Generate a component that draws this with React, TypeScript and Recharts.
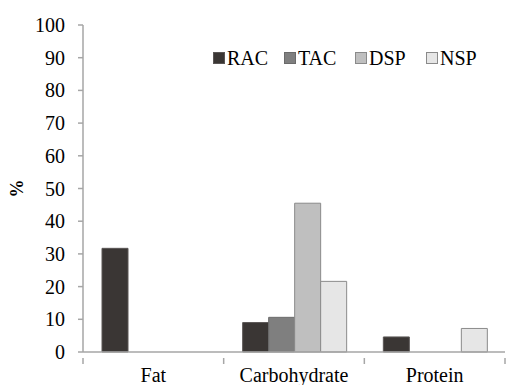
import { Bar, BarChart, XAxis, YAxis } from 'recharts';

const CATEGORIES = ['Fat', 'Carbohydrate', 'Protein'];
const RAC = [31.7, 9.0, 4.6];
const TAC = [null, 10.6, null];
const DSP = [null, 45.5, null];
const NSP = [null, 21.6, 7.2];
const Y_TICKS = [0, 10, 20, 30, 40, 50, 60, 70, 80, 90, 100];

const SERIES = [
  { key: 'RAC', fill: '#3a3634', stroke: '#5a5655' },
  { key: 'TAC', fill: '#7f7f7f', stroke: '#6a6a6a' },
  { key: 'DSP', fill: '#bfbfbf', stroke: '#8a8a8a' },
  { key: 'NSP', fill: '#e6e6e6', stroke: '#8a8a8a' },
];

const data = CATEGORIES.map((name, i) => ({
  name,
  RAC: RAC[i],
  TAC: TAC[i],
  DSP: DSP[i],
  NSP: NSP[i],
}));

const FONT = "'Liberation Serif', 'Times New Roman', serif";
const AXIS = '#a6a6a6';

function XTick(props: any) {
  const { x, y, payload, index } = props;
  const half = payload.offset ?? 0;
  const isLast = index === CATEGORIES.length - 1;
  return (
    <g>
      <line x1={x - half} x2={x - half} y1={y} y2={y + 6} stroke={AXIS} strokeWidth={1.5} />
      {isLast && (
        <line x1={x + half} x2={x + half} y1={y} y2={y + 6} stroke={AXIS} strokeWidth={1.5} />
      )}
      <text
        x={x}
        y={y + 24}
        textAnchor="middle"
        fontFamily={FONT}
        style={{ fontFamily: FONT, fontSize: 20, fill: '#000' }}
      >
        {payload.value}
      </text>
    </g>
  );
}

function YTick(props: any) {
  const { x, y, payload } = props;
  return (
    <text
      x={x - 2}
      y={y}
      dy={7}
      textAnchor="end"
      fontFamily={FONT}
      style={{ fontFamily: FONT, fontSize: 20, fill: '#000' }}
    >
      {payload.value}
    </text>
  );
}

function YLabel(props: any) {
  const { viewBox } = props;
  const cx = 17;
  const cy = viewBox.y + viewBox.height / 2;
  return (
    <text
      x={cx}
      y={cy}
      transform={`rotate(-90, ${cx}, ${cy})`}
      textAnchor="middle"
      dominantBaseline="central"
      style={{ fontFamily: FONT, fontSize: 18, fontWeight: 'bold', fill: '#000' }}
    >
      %
    </text>
  );
}

export default function App() {
  return (
    <div style={{ position: 'absolute', left: 0, top: 0, width: 506, height: 385, background: '#fff' }}>
      <BarChart
        width={506}
        height={385}
        data={data}
        margin={{ top: 25, right: 1, left: 0, bottom: 0 }}
        barCategoryGap={19}
        barGap={0}
        style={{ fontFamily: FONT }}
      >
        <XAxis
          dataKey="name"
          height={33}
          stroke={AXIS}
          strokeWidth={1.5}
          tickLine={false}
          tick={<XTick />}
          tickMargin={0}
          interval={0}
        />
        <YAxis
          width={83}
          domain={[0, 100]}
          ticks={Y_TICKS}
          interval={0}
          stroke={AXIS}
          strokeWidth={1.5}
          tickSize={5}
          tickMargin={11}
          tick={<YTick />}
          label={<YLabel />}
        />
        {SERIES.map((s) => (
          <Bar
            key={s.key}
            dataKey={s.key}
            fill={s.fill}
            stroke={s.stroke}
            strokeWidth={1}
            isAnimationActive={false}
          />
        ))}
      </BarChart>
      <div
        style={{
          position: 'absolute',
          left: 213,
          top: 46,
          display: 'flex',
          fontFamily: FONT,
          fontSize: 20,
          color: '#000',
          lineHeight: '24px',
        }}
      >
        {SERIES.map((s) => (
          <div key={s.key} style={{ display: 'flex', alignItems: 'center', width: 71 }}>
            <span
              style={{
                display: 'inline-block',
                width: 10,
                height: 10,
                background: s.fill,
                border: `1px solid ${s.stroke}`,
                marginRight: 2,
              }}
            />
            <span>{s.key}</span>
          </div>
        ))}
      </div>
    </div>
  );
}
